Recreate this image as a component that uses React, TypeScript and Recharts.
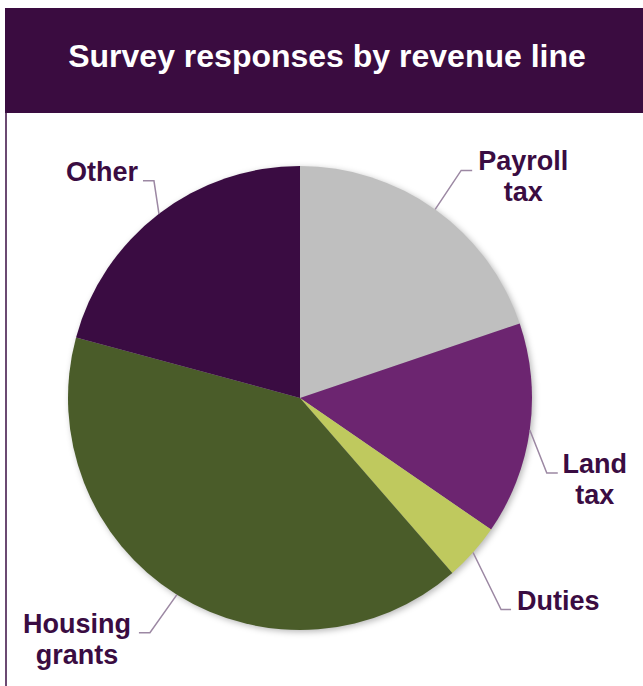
import { Cell, Pie, PieChart } from 'recharts'

const categories = ['Payroll tax', 'Land tax', 'Duties', 'Housing grants', 'Other']
const shares = [19.8, 14.8, 4.0, 40.6, 20.8]
const sliceColors = ['#bfbfbf', '#6c2570', '#bfc95e', '#4a5c29', '#3a0c42']

const data = categories.map((name, i) => ({ name, value: shares[i] }))
const shadowData = [{ name: 'shadow', value: 1 }]

const TEXT = '#3a0c42'
const LEADER = '#9c88a3'
const FONT = '"Liberation Sans", Arial, Helvetica, sans-serif'
const RADIAN = Math.PI / 180

// where each label sits, relative to the point where its leader leaves the pie
type LabelLayout = {
  lines: string[]
  elbow: [number, number]
  tail: number
  textDx: number
  anchor: 'start' | 'middle' | 'end'
}

const labelLayout: Record<string, LabelLayout> = {
  'Payroll tax': { lines: ['Payroll', 'tax'], elbow: [26, -39], tail: 11, textDx: 51, anchor: 'middle' },
  'Land tax': { lines: ['Land', 'tax'], elbow: [17, 43], tail: 11, textDx: 37, anchor: 'middle' },
  Duties: { lines: ['Duties'], elbow: [28, 57], tail: 10, textDx: 6, anchor: 'start' },
  'Housing grants': { lines: ['Housing', 'grants'], elbow: [-27, 38], tail: -11, textDx: -62, anchor: 'middle' },
  Other: { lines: ['Other'], elbow: [-5, -33], tail: -11, textDx: -5, anchor: 'end' }
}

function renderLabel(props: any) {
  const { cx, cy, midAngle, outerRadius, name } = props
  const layout = labelLayout[name]
  if (!layout) return null
  const x0 = cx + outerRadius * Math.cos(-midAngle * RADIAN)
  const y0 = cy + outerRadius * Math.sin(-midAngle * RADIAN)
  const x1 = x0 + layout.elbow[0]
  const y1 = y0 + layout.elbow[1]
  const x2 = x1 + layout.tail
  const tx = x2 + layout.textDx

  return (
    <g>
      <polyline
        points={`${x0},${y0} ${x1},${y1} ${x2},${y1}`}
        fill="none"
        stroke={LEADER}
        strokeWidth={1.5}
      />
      <text
        x={tx}
        y={y1}
        textAnchor={layout.anchor}
        fill={TEXT}
        fontSize={27}
        fontWeight="bold"
        fontFamily={FONT}
      >
        {layout.lines.map((line, i) => (
          <tspan key={line} x={tx} dy={i === 0 ? 0 : 31}>
            {line}
          </tspan>
        ))}
      </text>
    </g>
  )
}

export default function App() {
  return (
    <div
      style={{
        position: 'absolute',
        left: 0,
        top: 0,
        width: 643,
        height: 686,
        background: '#ffffff',
        overflow: 'hidden',
        fontFamily: FONT
      }}
    >
      <div
        style={{
          position: 'absolute',
          left: 5,
          top: 8,
          width: 650,
          height: 105,
          background: '#3a0c40'
        }}
      >
        <div
          style={{
            position: 'absolute',
            left: 0,
            top: 30,
            width: 644,
            textAlign: 'center',
            color: '#ffffff',
            fontSize: 32,
            fontWeight: 'bold',
            lineHeight: '36px'
          }}
        >
          Survey responses by revenue line
        </div>
      </div>
      <div
        style={{
          position: 'absolute',
          left: 5,
          top: 113,
          width: 2,
          height: 573,
          background: '#6b4a72'
        }}
      />
      <div style={{ position: 'absolute', left: 0, top: 113 }}>
        <PieChart width={643} height={573} margin={{ top: 0, right: 0, bottom: 0, left: 0 }}>
          <Pie
            data={shadowData}
            dataKey="value"
            cx={302}
            cy={287}
            outerRadius={232}
            stroke="none"
            isAnimationActive={false}
          >
            <Cell fill="rgba(0,0,0,0.28)" style={{ filter: 'blur(3px)' }} />
          </Pie>
          <Pie
            data={data}
            dataKey="value"
            nameKey="name"
            cx={300}
            cy={285}
            outerRadius={232}
            startAngle={90}
            endAngle={-270}
            stroke="none"
            label={renderLabel}
            labelLine={false}
            isAnimationActive={false}
          >
            {data.map((d, i) => (
              <Cell key={d.name} fill={sliceColors[i]} />
            ))}
          </Pie>
        </PieChart>
      </div>
    </div>
  )
}
